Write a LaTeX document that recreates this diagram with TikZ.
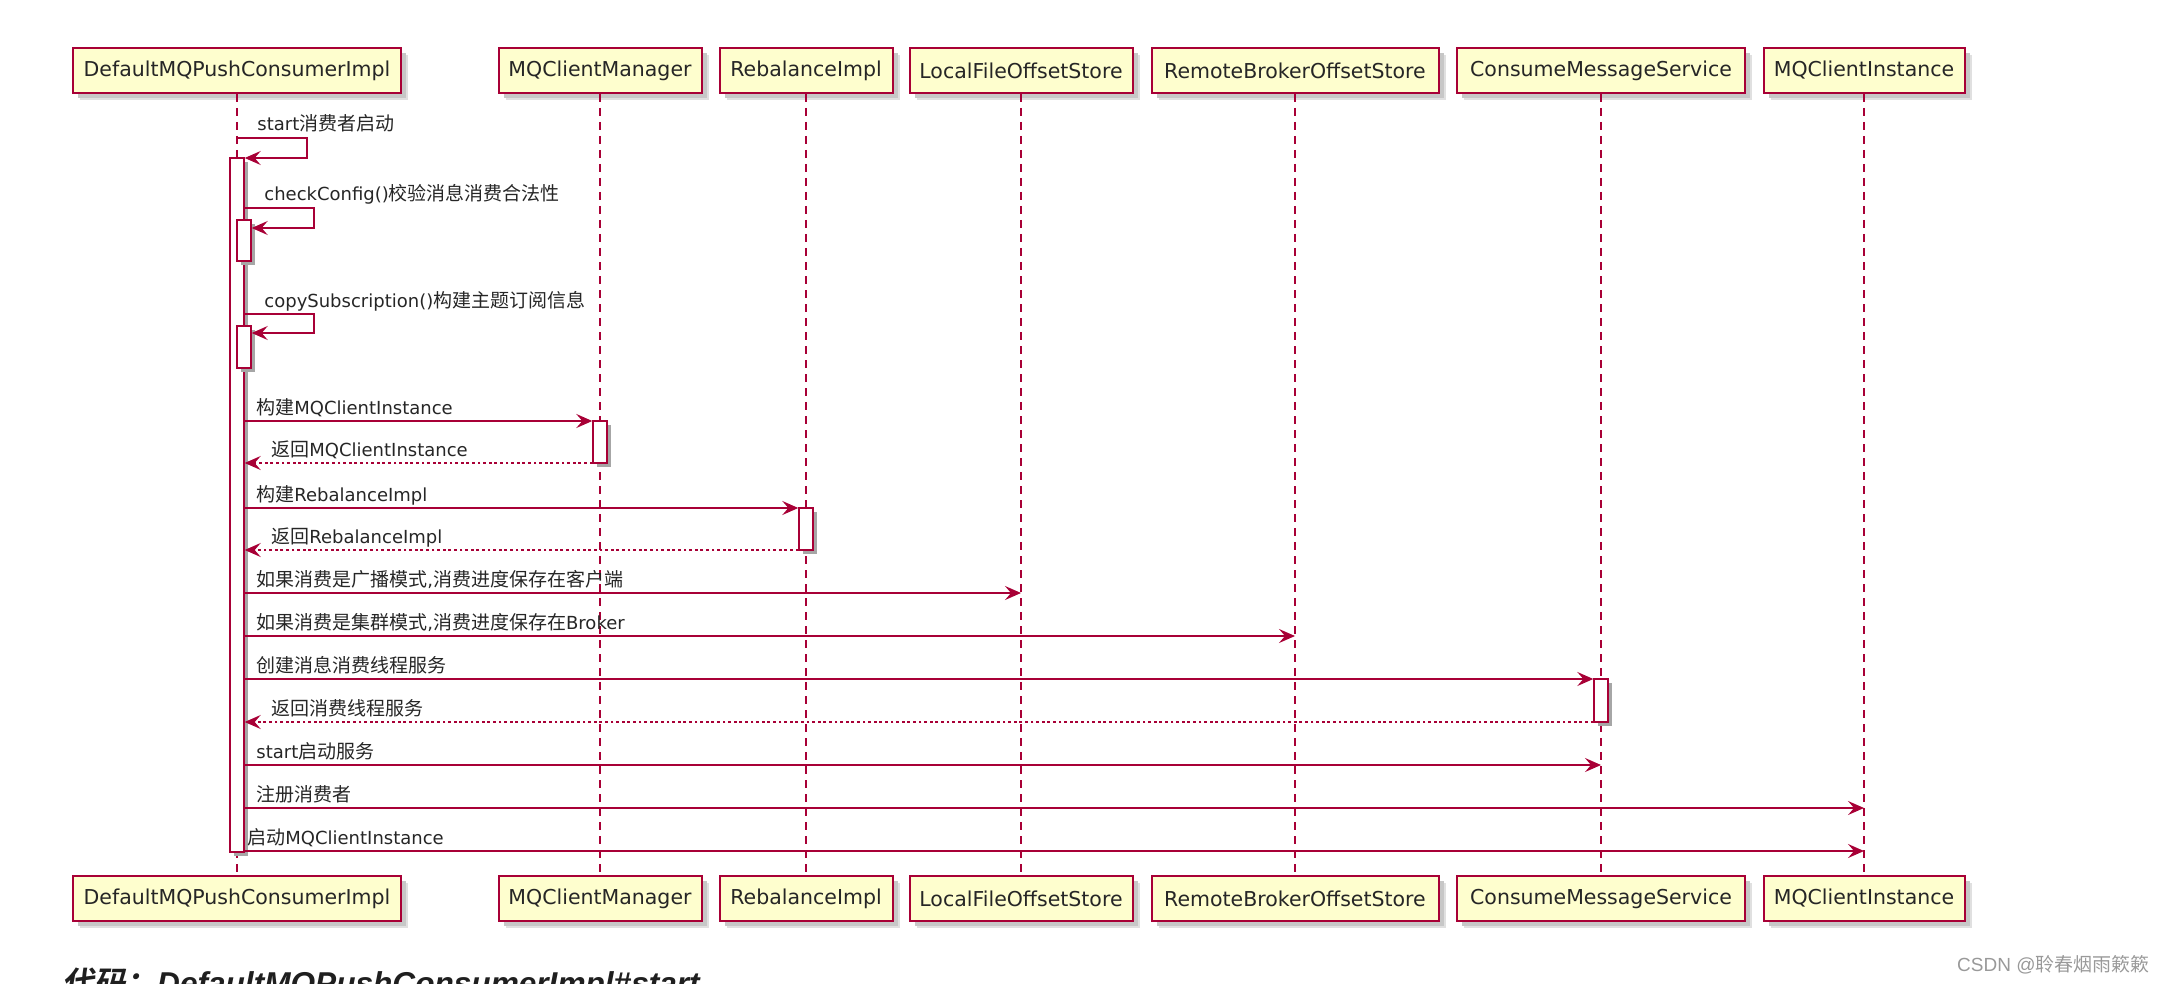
\documentclass[tikz,border=0pt]{standalone}
\usepackage{fontspec}
\setmainfont{DejaVu Sans}
\newfontfamily\zhfont{Noto Sans CJK SC}
\newfontfamily\zhplain{Noto Sans CJK SC}
\newfontfamily\zhbold[FakeSlant=0.18]{Noto Sans CJK SC Bold}
\newfontfamily\capfont{Liberation Sans}
\usetikzlibrary{arrows.meta}
\definecolor{pu}{HTML}{A80036}
\definecolor{pbox}{HTML}{FEFECE}
\newcommand\zh[1]{{\zhfont\fontsize{9.5}{11}\selectfont #1}}
\tikzset{
  part/.style={draw=pu, line width=1pt, fill=pbox, minimum height=22.5pt, inner sep=0pt,
    font=\fontsize{10.25}{12}\selectfont, text=black!85,
    preaction={fill=black!12, transform canvas={xshift=3.5pt,yshift=-3.5pt}},
    preaction={fill=black!22, transform canvas={xshift=2.5pt,yshift=-2.5pt}}},
  lifeline/.style={draw=pu, line width=0.7pt, dash pattern=on 4pt off 3pt},
  actbar/.style={draw=pu, line width=0.7pt, fill=white, minimum width=7pt, inner sep=0pt,
    preaction={fill=black!35, transform canvas={xshift=2pt,yshift=-2pt}}},
  msg/.style={draw=pu, line width=0.75pt, -{Stealth[length=8pt,width=7pt,inset=3pt]}},
  ret/.style={msg, dash pattern=on 1.4pt off 1.4pt},
  lbl/.style={inner sep=0pt, anchor=base west, font=\fontsize{9}{11}\selectfont, text=black!85},
}
\begin{document}
\begin{tikzpicture}[x=0.5pt,y=-0.5pt]
\useasboundingbox (0,0) rectangle (2166,984);
\clip (0,0) rectangle (2166,984);
% participants
\node[part, minimum width=164pt] (p1t) at (237,70.5) {DefaultMQPushConsumerImpl};
\node[part, minimum width=101.5pt] (p2t) at (600,70.5) {MQClientManager};
\node[part, minimum width=86.5pt] (p3t) at (806,70.5) {RebalanceImpl};
\node[part, minimum width=111.5pt] (p4t) at (1021,70.5) {LocalFileOffsetStore};
\node[part, minimum width=143.5pt] (p5t) at (1295,70.5) {RemoteBrokerOffsetStore};
\node[part, minimum width=144pt] (p6t) at (1601,70.5) {ConsumeMessageService};
\node[part, minimum width=100.5pt] (p7t) at (1864,70.5) {MQClientInstance};
\node[part, minimum width=164pt] (p1b) at (237,898.5) {DefaultMQPushConsumerImpl};
\node[part, minimum width=101.5pt] (p2b) at (600,898.5) {MQClientManager};
\node[part, minimum width=86.5pt] (p3b) at (806,898.5) {RebalanceImpl};
\node[part, minimum width=111.5pt] (p4b) at (1021,898.5) {LocalFileOffsetStore};
\node[part, minimum width=143.5pt] (p5b) at (1295,898.5) {RemoteBrokerOffsetStore};
\node[part, minimum width=144pt] (p6b) at (1601,898.5) {ConsumeMessageService};
\node[part, minimum width=100.5pt] (p7b) at (1864,898.5) {MQClientInstance};
% lifelines
\foreach \i in {1,...,7}{\draw[lifeline] (p\i t.south) -- (p\i b.north);}
% activation bars
\node[actbar, minimum height=347pt] (a1) at (237,505) {};
\node[actbar, minimum height=20.5pt] (n1) at (244,240.5) {};
\node[actbar, minimum height=21pt] (n2) at (244,347) {};
\node[actbar, minimum height=21pt] (a2) at (600,442) {};
\node[actbar, minimum height=21pt] (a3) at (806,529) {};
\node[actbar, minimum height=21.5pt] (a6) at (1601,700.5) {};
% self messages
\draw[msg] (p1t.south |- 0,138) -| (307,158) -- (a1.east |- 0,158);
\node[lbl] (l1) at (257,131) {start\zh{消费者启动}};
\draw[msg] (a1.east |- 0,208) -| (314,228) -- (n1.east |- 0,228);
\node[lbl] (l2) at (264,201) {checkConfig()\zh{校验消息消费合法性}};
\draw[msg] (a1.east |- 0,314) -| (314,333) -- (n2.east |- 0,333);
\node[lbl] (l3) at (264,307) {copySubscription()\zh{构建主题订阅信息}};
% messages
\draw[msg] (a1.east |- 0,421) -- (a2.west |- 0,421);
\node[lbl] (l4) at (256,414) {\zh{构建}MQClientInstance};
\draw[ret] (a2.west |- 0,463) -- (a1.east |- 0,463);
\node[lbl] (l5) at (271,456) {\zh{返回}MQClientInstance};
\draw[msg] (a1.east |- 0,508) -- (a3.west |- 0,508);
\node[lbl] (l6) at (256,501) {\zh{构建}RebalanceImpl};
\draw[ret] (a3.west |- 0,550) -- (a1.east |- 0,550);
\node[lbl] (l7) at (271,543) {\zh{返回}RebalanceImpl};
\draw[msg] (a1.east |- 0,593) -- (p4t.south |- 0,593);
\node[lbl] (l8) at (256,586) {\zh{如果消费是广播模式},\zh{消费进度保存在客户端}};
\draw[msg] (a1.east |- 0,636) -- (p5t.south |- 0,636);
\node[lbl] (l9) at (256,629) {\zh{如果消费是集群模式},\zh{消费进度保存在}Broker};
\draw[msg] (a1.east |- 0,679) -- (a6.west |- 0,679);
\node[lbl] (l10) at (256,672) {\zh{创建消息消费线程服务}};
\draw[ret] (a6.west |- 0,722) -- (a1.east |- 0,722);
\node[lbl] (l11) at (271,715) {\zh{返回消费线程服务}};
\draw[msg] (a1.east |- 0,765) -- (p6t.south |- 0,765);
\node[lbl] (l12) at (256,758) {start\zh{启动服务}};
\draw[msg] (a1.east |- 0,808) -- (p7t.south |- 0,808);
\node[lbl] (l13) at (256,801) {\zh{注册消费者}};
\draw[msg] (a1.east |- 0,851) -- (p7t.south |- 0,851);
\node[lbl] (l14) at (247,844) {\zh{启动}MQClientInstance};
% caption and watermark
\node[inner sep=0pt, anchor=base west, text=black!88] (cap) at (62,994)
  {\fontsize{15.8}{18}\selectfont{\zhbold 代码：}{\capfont\bfseries\itshape DefaultMQPushConsumerImpl\#start}};
\node[inner sep=0pt, anchor=base east, text=black!40] (wm) at (2150,971)
  {\fontsize{9.5}{11}\selectfont{\capfont CSDN @}{\zhplain 聆春烟雨簌簌}};
\end{tikzpicture}
\end{document}
